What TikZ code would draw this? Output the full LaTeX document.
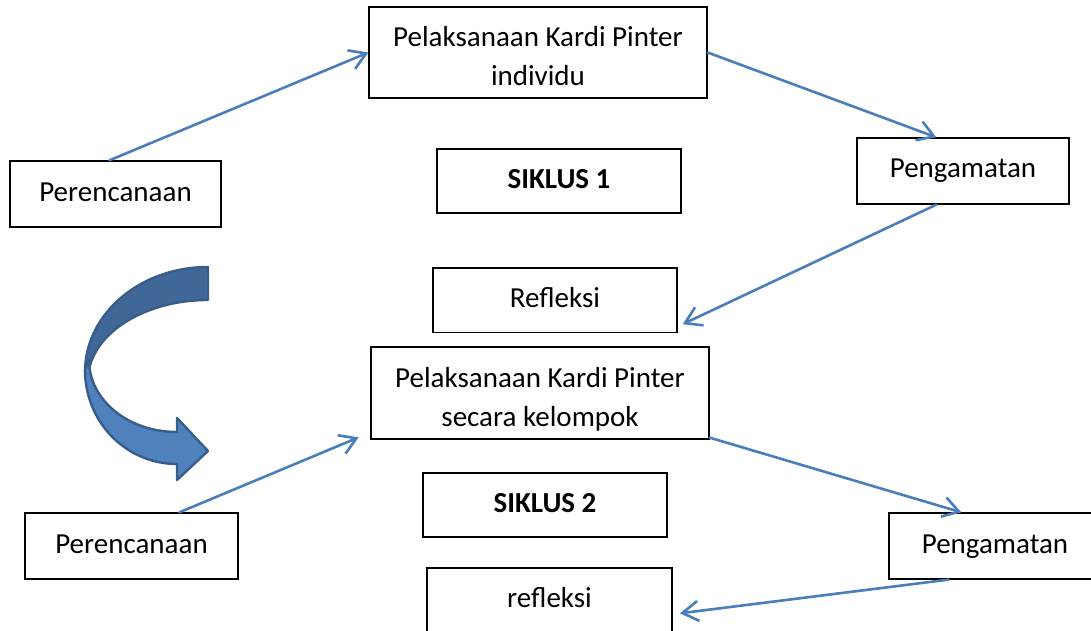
\documentclass[tikz,border=0pt]{standalone}
\usepackage{fontspec}
\setmainfont{Carlito}
\usetikzlibrary{arrows.meta,calc}
\definecolor{linkblue}{RGB}{74,126,187}
\definecolor{arrowedge}{RGB}{56,93,138}
\definecolor{arrowdark}{RGB}{63,103,151}
\definecolor{arrowlight}{RGB}{79,129,189}
\newcommand{\twoline}[2]{\begin{tabular}[b]{@{}c@{}}#1\\#2\end{tabular}}
\tikzset{
  stagebox/.style={draw=black, line width=1.3pt, inner sep=0pt, text height=20pt, text depth=6pt,
    font=\fontsize{29}{39}\selectfont},
  twobox/.style={stagebox, text height=73pt, text depth=6pt},
  conn/.style={draw=linkblue, line width=2.6pt, line cap=round,
    -{Straight Barb[length=16pt,width=20pt,line width=2.6pt]}},
  ribbondark/.style={fill=arrowdark, draw=arrowedge, line width=2.4pt, line join=round},
  ribbonlight/.style={fill=arrowlight, draw=arrowedge, line width=2.4pt, line join=round}
}
\begin{document}
\begin{tikzpicture}[x=1pt,y=-1pt]
\useasboundingbox (0,0) rectangle (1091,631);
\clip (0,0) rectangle (1091,631);
% boxes
\node[twobox, minimum width=338pt, minimum height=91pt] (top1) at (538,52.5) {\twoline{Pelaksanaan Kardi Pinter}{individu}};
\node[stagebox, minimum width=211pt, minimum height=66pt] (per1) at (115.5,194) {Perencanaan};
\node[stagebox, minimum width=244pt, minimum height=64pt] (sik1) at (559,181) {\bfseries SIKLUS 1};
\node[stagebox, minimum width=212pt, minimum height=66pt] (peng1) at (963,171) {Pengamatan};
\node[stagebox, minimum width=244pt, minimum height=64.5pt] (refl1) at (555,300.3) {Refleksi};
\node[twobox, minimum width=338pt, minimum height=92pt] (pel2) at (540,393) {\twoline{Pelaksanaan Kardi Pinter}{secara kelompok}};
\node[stagebox, minimum width=244pt, minimum height=64pt] (sik2) at (545,505) {\bfseries SIKLUS 2};
\node[stagebox, minimum width=213pt, minimum height=66pt] (per2) at (131.5,546) {Perencanaan};
\node[stagebox, minimum width=212pt, minimum height=66pt] (peng2) at (995,546) {Pengamatan};
\node[stagebox, minimum width=245pt, minimum height=64pt] (refl2) at (549.5,600) {refleksi};
% connectors
\draw[conn] ([xshift=100pt]per1.north west) -- (top1.west);
\draw[conn] (top1.east) -- ([xshift=80pt]peng1.north west);
\draw[conn] ([xshift=80pt]peng1.south west) -- ([xshift=5pt,yshift=9pt]refl1.south east);
\draw[conn] ([xshift=155pt]per2.north west) -- ([xshift=-11.7pt,yshift=2.3pt]pel2.south west);
\draw[conn] ([yshift=2pt]pel2.south east) -- ([xshift=73pt]peng2.north west);
\draw[conn] ([xshift=60pt]peng2.south west) -- ([xshift=7.3pt,yshift=-13.3pt]refl2.east);
% curved ribbon arrow
\path[ribbondark] (208,267) .. controls (140,267) and (85,314) .. (85,372)
  -- (88,380) .. controls (88,336) and (142,300) .. (208,300) -- cycle;
\path[ribbonlight] (85,370) .. controls (85,422) and (126,464) .. (177,464)
  -- (177,480) -- (208,451) -- (177,418) -- (177,432)
  .. controls (128,432) and (89,400) .. (89,360) -- cycle;
\end{tikzpicture}
\end{document}
